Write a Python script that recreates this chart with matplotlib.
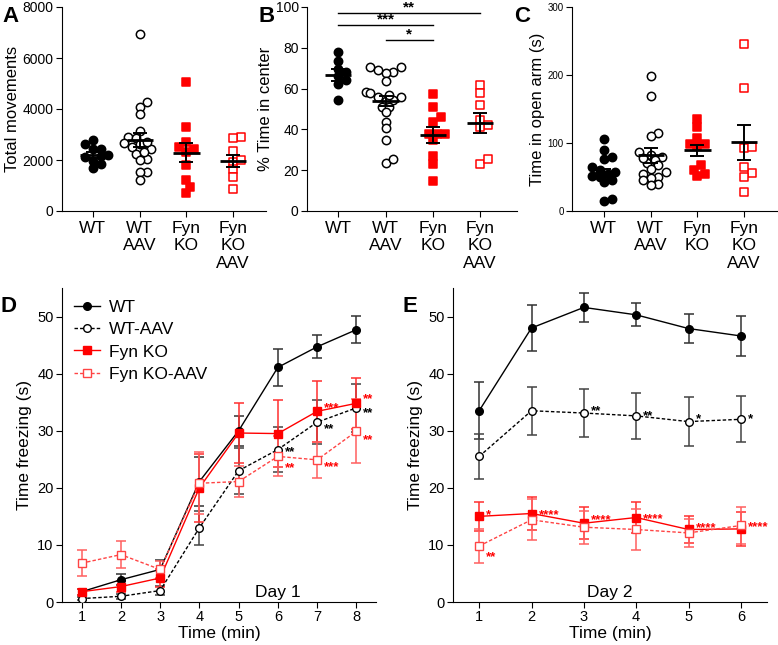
import numpy as np
import matplotlib.pyplot as plt

plt.rcParams['font.family'] = ['Liberation Sans', 'DejaVu Sans']

groups = ['WT', 'WT\nAAV', 'Fyn\nKO', 'Fyn\nKO\nAAV']

# A - total movements
mov_wt = [2780, 2620, 2450, 2420, 2200, 2150, 2100, 1950, 1850, 1680]
mov_wtaav = [6950, 4280, 4080, 3820, 3150, 2900, 2880, 2650, 2640, 2500,
             2450, 2250, 2050, 2300, 1540, 1520, 1200, 2000, 2700]
mov_ko = [5050, 3300, 2700, 2520, 2450, 2320, 1800, 1220, 950, 720]
mov_koaav = [2900, 2850, 2350, 1930, 2000, 1660, 1320, 850]
mov_mean = [2200, 2790, 2290, 1960]
mov_sem = [110, 280, 380, 240]

# B - % time in center
ctr_wt = [77.7, 73.4, 69.5, 68.2, 64.1, 62.2, 66.0, 54.3]
ctr_wtaav = [70.6, 70.6, 68.2, 67.7, 69.0, 63.6, 58.4, 57.9, 56.0, 56.0, 54.3,
             54.0, 51.0, 51.0, 48.3, 43.7, 40.5, 35.0, 23.7, 25.3, 57.0]
ctr_ko = [57.3, 51.0, 46.2, 43.7, 37.7, 37.7, 37.7, 34.7, 27.1, 23.0, 14.7]
ctr_koaav = [61.7, 57.6, 51.9, 44.5, 42.1, 41.3, 22.8, 25.3]
ctr_mean = [66.7, 54.0, 37.3, 43.2]
ctr_sem = [2.8, 2.4, 4.1, 4.9]

# C - time in open arm
arm_wt = [106, 90, 79, 77, 64, 60, 57, 55, 52, 50, 46, 42, 15, 17]
arm_wtaav = [198, 169, 115, 111, 87, 83, 80, 75, 70, 67, 62, 57, 55, 50, 48,
             45, 40, 38, 78]
arm_ko = [123, 135, 108, 99, 98, 95, 67, 61, 55, 52]
arm_koaav = [246, 181, 92, 94, 56, 50, 65, 28]
arm_mean = [56, 82, 89, 101]
arm_sem = [6, 11, 8, 26]

# D - day 1 freezing
d_min = [1, 2, 3, 4, 5, 6, 7, 8]
d_wt = [1.8, 3.9, 5.7, 21.1, 30.0, 41.1, 44.7, 47.7]
d_wt_err = [0.5, 1.0, 1.6, 4.3, 2.6, 3.2, 2.0, 2.4]
d_wtaav = [0.6, 1.0, 2.0, 13.0, 23.0, 26.7, 31.5, 34.0]
d_wtaav_err = [0.3, 0.4, 0.8, 3.0, 4.0, 4.0, 3.8, 4.2]
d_ko = [1.8, 2.7, 4.2, 20.0, 29.6, 29.5, 33.4, 34.8]
d_ko_err = [0.5, 1.0, 1.5, 6.0, 5.2, 5.8, 5.3, 4.5]
d_koaav = [6.8, 8.3, 5.7, 20.8, 21.1, 25.5, 24.9, 29.9]
d_koaav_err = [2.3, 2.4, 1.5, 5.4, 2.7, 3.5, 3.2, 5.6]
d_stars = [(7, 34.6, '***', 'red'), (8, 36.1, '**', 'red'), (8, 33.7, '**', 'k'),
           (7, 30.8, '**', 'k'), (6, 26.8, '**', 'k'), (6, 24.0, '**', 'red'),
           (7, 24.3, '***', 'red'), (8, 29.0, '**', 'red')]

# E - day 2 freezing
e_min = [1, 2, 3, 4, 5, 6]
e_wt = [33.5, 48.0, 51.6, 50.3, 47.9, 46.6]
e_wt_err = [5.0, 4.0, 2.6, 2.0, 2.6, 3.5]
e_wtaav = [25.5, 33.5, 33.1, 32.6, 31.6, 32.0]
e_wtaav_err = [3.9, 4.2, 4.2, 4.0, 4.3, 4.0]
e_ko = [15.0, 15.5, 13.8, 14.8, 12.7, 12.8]
e_ko_err = [2.5, 2.9, 2.8, 2.7, 2.4, 3.0]
e_koaav = [9.8, 14.4, 13.1, 12.7, 12.1, 13.4]
e_koaav_err = [2.9, 3.6, 2.9, 3.6, 2.4, 3.2]
e_stars = [(3, 34.1, '**', 'k'), (4, 33.1, '**', 'k'), (5, 32.6, '*', 'k'),
           (6, 32.7, '*', 'k'), (1, 15.9, '*', 'red'), (1, 8.5, '**', 'red'),
           (2, 15.9, '****', 'red'), (3, 15.0, '****', 'red'),
           (4, 15.2, '****', 'red'), (5, 13.6, '****', 'red'),
           (6, 13.7, '****', 'red')]

RED = '#ff0000'
styles = [dict(marker='o', c='k', fill=True), dict(marker='o', c='k', fill=False),
          dict(marker='s', c=RED, fill=True), dict(marker='s', c=RED, fill=False)]


def swarm(vals, ypx, xpx, d=6.5):
    # simple beeswarm: place points from low to high, shift sideways on overlap
    vals = np.asarray(vals, float)
    offs = np.zeros(len(vals))
    placed = []
    for i in np.argsort(vals):
        y = vals[i] * ypx
        for k in [0, 1, -1, 2, -2, 3, -3, 4, -4, 5, -5]:
            x = k * d * 0.6
            if all((x - px) ** 2 + (y - py) ** 2 >= d * d for px, py in placed):
                break
        placed.append((x, y))
        offs[i] = x / xpx
    return offs


def dotplot(ax, data, means, sems, ymax, yticks, ylabel, ytick_fs=10):
    ypx = 204.0 / ymax
    for i, vals in enumerate(data):
        st = styles[i]
        xs = i + swarm(vals, ypx, 47.0)
        ax.scatter(xs, vals, s=36, marker=st['marker'],
                   facecolors=st['c'] if st['fill'] else 'white',
                   edgecolors=st['c'], linewidths=1.1, zorder=3)
        ax.hlines(means[i], i - 0.28, i + 0.28, color='k', lw=2, zorder=5)
        ax.errorbar(i, means[i], yerr=sems[i], fmt='none', ecolor='k',
                    elinewidth=1.4, capsize=5, capthick=1.4, zorder=5)
    ax.set_ylim(0, ymax)
    ax.set_yticks(yticks)
    ax.set_xticks(range(4))
    ax.set_xticklabels(groups, fontsize=12.5)
    ax.tick_params(axis='y', labelsize=ytick_fs, length=4, pad=2)
    ax.tick_params(axis='x', length=4, pad=3)
    ax.set_ylabel(ylabel, fontsize=12, labelpad=2)
    for s in ['top', 'right']:
        ax.spines[s].set_visible(False)


fig = plt.figure(figsize=(7.78, 6.45), dpi=100)
W, H = 778.0, 645.0

axA = fig.add_axes([62 / W, 1 - 211 / H, 204 / W, 204 / H])
dotplot(axA, [mov_wt, mov_wtaav, mov_ko, mov_koaav], mov_mean, mov_sem,
        8000, [0, 2000, 4000, 6000, 8000], 'Total movements')
axA.set_xlim(-0.66, 3.7)

axB = fig.add_axes([307 / W, 1 - 211 / H, 210 / W, 204 / H])
dotplot(axB, [ctr_wt, ctr_wtaav, ctr_ko, ctr_koaav], ctr_mean, ctr_sem,
        100, [0, 20, 40, 60, 80, 100], '% Time in center')
axB.set_xlim(-0.66, 3.78)
sig = [(0, 3, 97.2, '**'), (0, 2, 91.4, '***'), (1, 2, 84.0, '*')]
for x0, x1, y, t in sig:
    axB.plot([x0, x1], [y, y], color='k', lw=1, clip_on=False)
    axB.text((x0 + x1) / 2, y - 1.0, t, ha='center', va='bottom', fontsize=11,
             fontweight='bold')

axC = fig.add_axes([572 / W, 1 - 211 / H, 205 / W, 204 / H])
dotplot(axC, [arm_wt, arm_wtaav, arm_ko, arm_koaav], arm_mean, arm_sem,
        300, [0, 100, 200, 300], 'Time in open arm (s)', ytick_fs=7)
axC.set_xlim(-0.68, 3.7)


def lineplot(ax, x, series, stars, day, dayx):
    lsets = [
        dict(color='k', marker='o', mfc='k', ls='-', ecol='#333333', label='WT'),
        dict(color='k', marker='o', mfc='white', ls=(0, (2.5, 1.5)), ecol='#444444',
             label='WT-AAV'),
        dict(color=RED, marker='s', mfc=RED, ls='-', ecol='#ff3030', label='Fyn KO'),
        dict(color='#ff4444', marker='s', mfc='white', ls=(0, (2.5, 1.5)),
             ecol='#ff6060', label='Fyn KO-AAV'),
    ]
    for (y, err), st in zip(series, lsets):
        ax.errorbar(x, y, yerr=err, fmt='none', ecolor=st['ecol'], elinewidth=1.3,
                    capsize=3.5, capthick=1.3, zorder=2, alpha=0.85)
        ax.plot(x, y, color=st['color'], ls=st['ls'], lw=1, marker=st['marker'],
                ms=5.5, mfc=st['mfc'], mec=st['color'], mew=1, label=st['label'],
                zorder=3)
    for sx, sy, t, c in stars:
        ax.annotate(t, (sx, sy), xytext=(5, -2.5), textcoords='offset points',
                    ha='left', va='center', color=c, fontsize=9.5, fontweight='bold')
    ax.text(dayx, 0.4, day, ha='center', va='bottom', fontsize=12.5)
    ax.set_ylim(0, 55)
    ax.set_yticks([0, 10, 20, 30, 40, 50])
    ax.set_xticks(x)
    ax.set_xlim(0.5, x[-1] + 0.5)
    ax.tick_params(labelsize=10.5, length=4, pad=2)
    ax.set_xlabel('Time (min)', fontsize=12.5, labelpad=1)
    ax.set_ylabel('Time freezing (s)', fontsize=12.5, labelpad=4)
    for s in ['top', 'right']:
        ax.spines[s].set_visible(False)


axD = fig.add_axes([62 / W, 1 - 602 / H, 314 / W, 314 / H])
lineplot(axD, d_min, [(d_wt, d_wt_err), (d_wtaav, d_wtaav_err), (d_ko, d_ko_err),
                      (d_koaav, d_koaav_err)], d_stars, 'Day 1', 6.0)
axD.legend(loc='upper left', bbox_to_anchor=(0.0, 1.0), frameon=False,
           fontsize=12.5, handlelength=1.5, labelspacing=0.4, borderaxespad=0.3,
           handletextpad=0.5)

axE = fig.add_axes([453 / W, 1 - 602 / H, 314 / W, 314 / H])
lineplot(axE, e_min, [(e_wt, e_wt_err), (e_wtaav, e_wtaav_err), (e_ko, e_ko_err),
                      (e_koaav, e_koaav_err)], e_stars, 'Day 2', 3.5)

for lab, x, y in [('A', 2, 6), ('B', 259, 6), ('C', 514, 6), ('D', 1, 296), ('E', 402, 296)]:
    fig.text(x / W, 1 - y / H, lab, fontsize=16, fontweight='bold', ha='left', va='top')

fig.savefig('out.png', dpi=100)
